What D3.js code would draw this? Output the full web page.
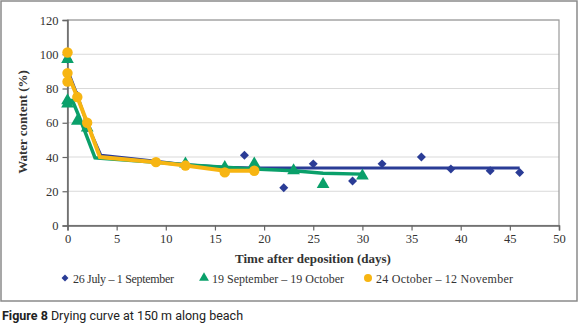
<!DOCTYPE html>
<html>
<head>
<meta charset="utf-8">
<script src="https://cdn.jsdelivr.net/npm/d3@7"></script>
<style>
  body { margin: 0; background: #fff; }
  svg { display: block; }
  .tick text { font-family: "Liberation Serif", serif; font-size: 12.5px; fill: #333; }
</style>
</head>
<body>
<svg id="chart" width="580" height="327"></svg>
<script>
// observed points
var julyX = [0, 1, 2, 18, 22, 25, 29, 32, 36, 39, 43, 46];
var julyY = [97, 76, 57, 41, 22, 36, 26, 36, 40, 33, 32, 31];
var septX = [0, 0, 0, 1, 2, 12, 16, 19, 23, 26, 30];
var septY = [97, 73, 71, 61, 57, 36, 34, 36, 32, 24, 29];
var octX = [0, 0, 0, 1, 2, 9, 12, 16, 19];
var octY = [101, 89, 84, 75, 60, 37, 35, 31, 32];

// fitted curves
var julyFitX = [0, 1, 2, 3.4, 9, 12, 16, 19, 46];
var julyFitY = [91, 76, 59, 41, 37.5, 35.5, 34, 33.6, 33.6];
var septFitX = [0, 0.5, 1.3, 2.8, 9, 12, 16, 19, 23, 26, 30];
var septFitY = [73, 73, 62, 39.5, 37, 35.5, 34, 33, 32, 30.5, 30];
var octFitX = [0, 1, 2, 3.3, 9, 12, 16, 19];
var octFitY = [89, 75, 60, 40, 37, 35, 32, 32];

var seriesNames = ["26 July \u2013 1 September", "19 September \u2013 19 October", "24 October \u2013 12 November"];
var xTicks = [0, 5, 10, 15, 20, 25, 30, 35, 40, 45, 50];
var yTicks = [0, 20, 40, 60, 80, 100, 120];

var colors = ["#2a3c96", "#0aa06a", "#f7b512"];
var svg = d3.select("#chart");

// outer frame
svg.append("rect")
  .attr("x", 1).attr("y", 1).attr("width", 576).attr("height", 300)
  .attr("fill", "none").attr("stroke", "#8a8a8a").attr("stroke-width", 1.5);

var x = d3.scaleLinear().domain([0, 50]).range([67.5, 559]);
var y = d3.scaleLinear().domain([0, 120]).range([225.5, 20]);

// gridlines
svg.selectAll(".grid")
  .data(yTicks.slice(1))
  .enter()
  .append("line")
    .attr("class", "grid")
    .attr("x1", x(0)).attr("x2", x(50))
    .attr("y1", function (d) { return y(d); })
    .attr("y2", function (d) { return y(d); })
    .attr("stroke", "#d9d9d9").attr("stroke-width", 1);

// plot border
svg.append("rect")
  .attr("x", x(0)).attr("y", y(120))
  .attr("width", x(50) - x(0)).attr("height", y(0) - y(120))
  .attr("fill", "none").attr("stroke", "#9a9a9a").attr("stroke-width", 1.2);

var xAxis = svg.append("g")
  .attr("transform", "translate(0," + y(0) + ")")
  .call(d3.axisBottom(x).tickValues(xTicks).tickSize(5).tickPadding(4));
var yAxis = svg.append("g")
  .attr("transform", "translate(" + x(0) + ",0)")
  .call(d3.axisLeft(y).tickValues(yTicks).tickSize(5).tickPadding(4));
[xAxis, yAxis].forEach(function (a) {
  a.select(".domain").attr("stroke", "#666").attr("stroke-width", 1.5);
  a.selectAll(".tick line").attr("stroke", "#666").attr("stroke-width", 1.2);
});

svg.append("text")
  .attr("x", 313).attr("y", 263)
  .attr("text-anchor", "middle")
  .attr("font-family", "Liberation Serif, serif")
  .attr("font-weight", "bold").attr("font-size", 13).attr("fill", "#333")
  .text("Time after deposition (days)");
svg.append("text")
  .attr("transform", "translate(27,122) rotate(-90)")
  .attr("text-anchor", "middle")
  .attr("font-family", "Liberation Serif, serif")
  .attr("font-weight", "bold").attr("font-size", 13).attr("fill", "#333")
  .text("Water content (%)");

var line = d3.line()
  .x(function (d) { return x(d[0]); })
  .y(function (d) { return y(d[1]); });

var fits = [d3.zip(julyFitX, julyFitY), d3.zip(septFitX, septFitY), d3.zip(octFitX, octFitY)];
var points = [d3.zip(julyX, julyY), d3.zip(septX, septY), d3.zip(octX, octY)];
var shapes = [d3.symbolSquare, d3.symbolTriangle, d3.symbolCircle];
var rotations = [45, 0, 0];
var sizes = [40, 70, 85];
var widths = [3, 3.5, 4];

fits.forEach(function (f, i) {
  svg.append("path")
    .datum(f)
    .attr("d", line)
    .attr("fill", "none")
    .attr("stroke", colors[i])
    .attr("stroke-width", widths[i])
    .attr("stroke-linejoin", "miter");
  svg.selectAll(".pt" + i)
    .data(points[i])
    .enter()
    .append("path")
      .attr("class", "pt" + i)
      .attr("transform", function (d) {
        return "translate(" + x(d[0]) + "," + y(d[1]) + ") rotate(" + rotations[i] + ")";
      })
      .attr("d", d3.symbol().type(shapes[i]).size(sizes[i]))
      .attr("fill", colors[i]);
});

// legend
var legX = [65, 204, 368];
var legend = svg.selectAll(".leg")
  .data(seriesNames)
  .enter()
  .append("g")
    .attr("class", "leg")
    .attr("transform", function (d, i) { return "translate(" + legX[i] + ",278)"; });
legend.append("path")
  .attr("transform", function (d, i) { return "rotate(" + rotations[i] + ")"; })
  .attr("d", function (d, i) { return d3.symbol().type(shapes[i]).size(sizes[i] * 0.6)(); })
  .attr("fill", function (d, i) { return colors[i]; });
legend.append("text")
  .attr("x", 8).attr("y", 4.5)
  .attr("font-family", "Liberation Serif, serif")
  .attr("font-size", 12).attr("fill", "#333")
  .attr("textLength", function (d, i) { return [101, 132, 137][i]; })
  .text(function (d) { return d; });

// caption
var cap = svg.append("text")
  .attr("x", 2).attr("y", 320)
  .attr("font-family", "Roboto, sans-serif")
  .attr("font-size", 12.5).attr("fill", "#222");
cap.append("tspan").attr("font-weight", "bold").text("Figure 8");
cap.append("tspan").text(" Drying curve at 150 m along beach");
</script>
</body>
</html>
